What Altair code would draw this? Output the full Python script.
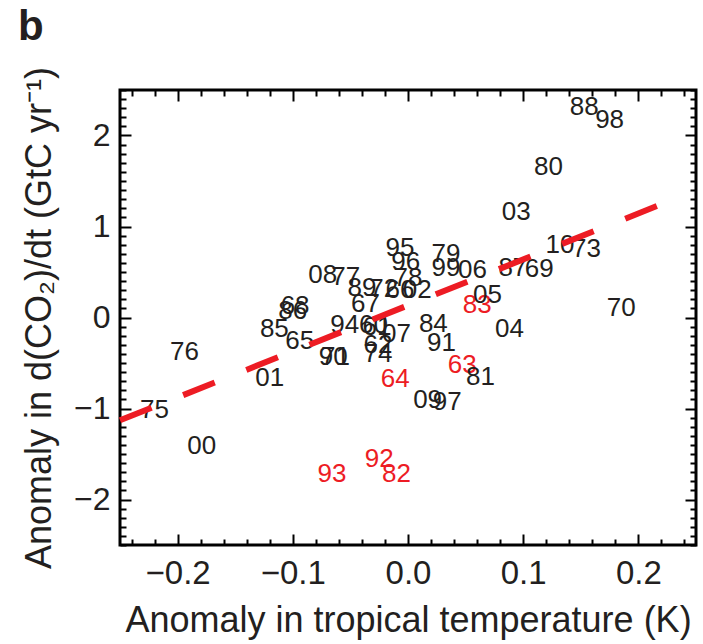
import altair as alt
import pandas as pd

years = ["60", "61", "62", "63", "64", "65", "66", "67", "68", "69",
         "70", "71", "72", "73", "74", "75", "76", "77", "78", "79",
         "80", "81", "82", "83", "84", "85", "86", "87", "88", "89",
         "90", "91", "92", "93", "94", "95", "96", "97", "98", "99",
         "00", "01", "02", "03", "04", "05", "06", "07", "08", "09", "10"]
temp_anom = [-0.030, -0.027, -0.026, 0.047, -0.011, -0.094, -0.007, -0.037, -0.098, 0.114,
             0.185, -0.063, -0.021, 0.155, -0.026, -0.220, -0.194, -0.054, 0.000, 0.033,
             0.122, 0.063, -0.010, 0.060, 0.022, -0.116, -0.100, 0.091, 0.153, -0.040,
             -0.065, 0.029, -0.025, -0.066, -0.055, -0.007, -0.002, 0.034, 0.175, 0.033,
             -0.179, -0.120, 0.008, 0.094, 0.088, 0.069, 0.056, -0.010, -0.074, 0.017, 0.132]
co2_anom = [-0.082, -0.104, -0.302, -0.522, -0.676, -0.258, 0.302, 0.148, 0.126, 0.533,
            0.104, -0.434, 0.313, 0.753, -0.401, -1.016, -0.379, 0.445, 0.434, 0.698,
            1.654, -0.654, -1.720, 0.137, -0.071, -0.126, 0.071, 0.544, 2.313, 0.324,
            -0.434, -0.280, -1.555, -1.720, -0.082, 0.764, 0.610, -0.929, 2.170, 0.544,
            -1.412, -0.665, 0.302, 1.159, -0.126, 0.247, 0.522, -0.181, 0.467, -0.907, 0.797]
volcanic = ["63", "64", "82", "83", "92", "93"]

fit_x = [-0.25, 0.225]
fit_y = [-1.13, 1.27]

x_major = [-0.2, -0.1, 0.0, 0.1, 0.2]
y_major = [-2, -1, 0, 1, 2]
x_minor = [round(-0.24 + 0.02 * i, 2) for i in range(25)]
x_minor = [v for v in x_minor if round(v * 10, 6) != round(v * 10)]
y_minor = [round(-2.5 + 0.1 * i, 1) for i in range(51)]
y_minor = [v for v in y_minor if v != round(v)]

W, H = 576, 455
FONT = "Liberation Sans"
DARK = "#231f20"
RED = "#ed1c24"

df = pd.DataFrame({
    "year": years,
    "t": temp_anom,
    "c": co2_anom,
    "group": ["volcanic" if y in volcanic else "normal" for y in years],
})
fit = pd.DataFrame({"t": fit_x, "c": fit_y})

xscale = alt.Scale(domain=[-0.25, 0.25], nice=False, zero=False)
yscale = alt.Scale(domain=[-2.5, 2.5], nice=False, zero=False)

main_x_axis = alt.Axis(
    values=x_major, format=".1f", title="Anomaly in tropical temperature (K)",
    labelFont=FONT, labelFontSize=33, labelColor=DARK, ticks=False, domain=False,
    grid=False, labelPadding=12, labelOverlap=False, labelFlush=False,
    titleFont=FONT, titleFontSize=36, titleFontWeight="normal", titleColor=DARK,
    titlePadding=13,
)
main_y_axis = alt.Axis(
    values=y_major, format="d", title="Anomaly in d(CO₂)/dt (GtC yr⁻¹)",
    labelFont=FONT, labelFontSize=32, labelColor=DARK, ticks=False, domain=False,
    grid=False, labelPadding=10, labelOverlap=False, labelFlush=False,
    titleFont=FONT, titleFontSize=36, titleFontWeight="normal", titleColor=DARK,
    titlePadding=15,
)

text_layer = alt.Chart(df).mark_text(
    font=FONT, fontSize=26, align="center", baseline="middle"
).encode(
    x=alt.X("t:Q", scale=xscale, axis=main_x_axis),
    y=alt.Y("c:Q", scale=yscale, axis=main_y_axis),
    text="year:N",
    color=alt.Color("group:N", scale=alt.Scale(domain=["normal", "volcanic"], range=[DARK, RED]), legend=None),
)

line_layer = alt.Chart(fit).mark_line(
    color=RED, strokeWidth=6, strokeDash=[34, 34]
).encode(
    x=alt.X("t:Q", scale=xscale, axis=None),
    y=alt.Y("c:Q", scale=yscale, axis=None),
)


def tick_layer(xvals, yvals, size, x_orient, y_orient):
    ax = alt.Axis(values=xvals, orient=x_orient, offset=-H, labels=False, title=None,
                  domain=False, grid=False, ticks=True, tickSize=size, tickWidth=2,
                  tickColor="black")
    ay = alt.Axis(values=yvals, orient=y_orient, offset=-W, labels=False, title=None,
                  domain=False, grid=False, ticks=True, tickSize=size, tickWidth=2,
                  tickColor="black")
    return alt.Chart(df).mark_point(opacity=0).encode(
        x=alt.X("t:Q", scale=xscale, axis=ax),
        y=alt.Y("c:Q", scale=yscale, axis=ay),
    )


chart = alt.layer(
    text_layer,
    line_layer,
    tick_layer(x_major, y_major, 11, "top", "right"),
    tick_layer(x_major, y_major, 11, "bottom", "left"),
    tick_layer(x_minor, y_minor, 6, "top", "right"),
    tick_layer(x_minor, y_minor, 6, "bottom", "left"),
).resolve_axis(
    x="independent", y="independent"
).properties(
    width=W, height=H,
    autosize=alt.AutoSizeParams(type="none"),
    padding={"left": 120, "top": 90, "right": 7, "bottom": 99},
    title=alt.TitleParams(text="b", anchor="start", frame="group", fontSize=42,
                          fontWeight="bold", font=FONT, color=DARK, dx=-102,
                          dy=38, offset=22, baseline="alphabetic"),
).configure(
    background="white"
).configure_view(
    stroke="black", strokeWidth=3
)

chart.save("out.html", embed_options={"renderer": "svg", "actions": False})
